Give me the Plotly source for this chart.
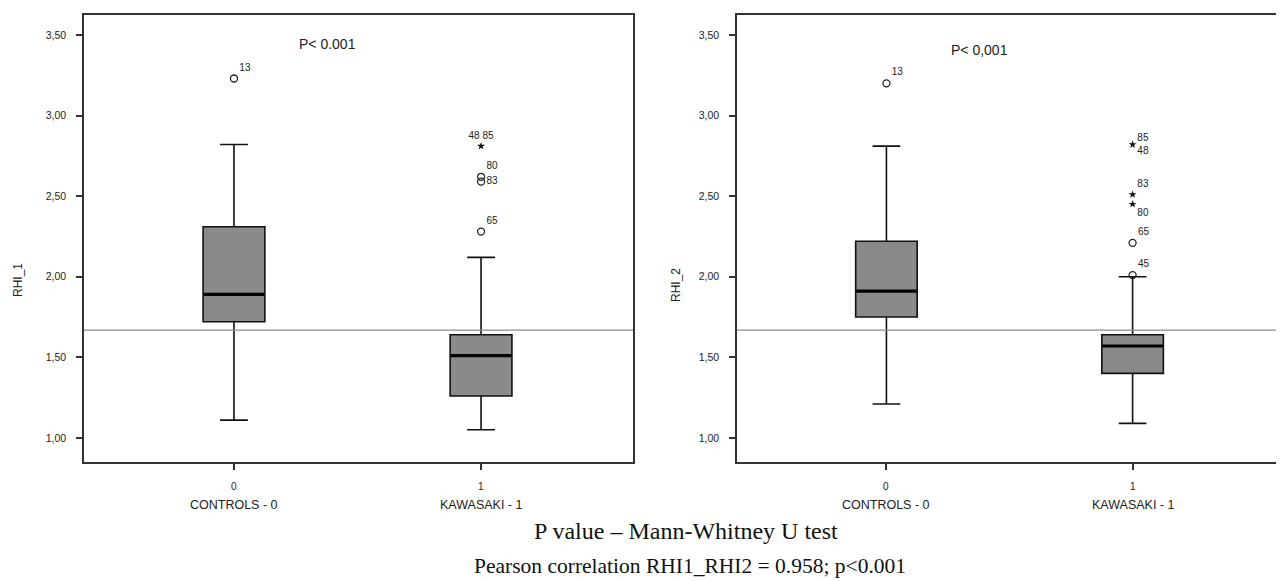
import plotly.graph_objects as go

# ---------------- data ----------------
categories = [0, 1]
category_ticks = ["0", "1"]
category_names = ["CONTROLS - 0", "KAWASAKI - 1"]

# RHI_1 boxes: controls, kawasaki
rhi1_q1 = [1.72, 1.26]
rhi1_median = [1.89, 1.51]
rhi1_q3 = [2.31, 1.64]
rhi1_lower = [1.11, 1.05]
rhi1_upper = [2.82, 2.12]

# RHI_1 outliers
rhi1_out_x = [0, 1, 1, 1]
rhi1_out_y = [3.23, 2.28, 2.59, 2.62]
rhi1_out_label = ["13", "65", "83", "80"]
rhi1_ext_x = [1]
rhi1_ext_y = [2.81]
rhi1_ext_label = ["48 85"]

# RHI_2 boxes
rhi2_q1 = [1.75, 1.40]
rhi2_median = [1.91, 1.57]
rhi2_q3 = [2.22, 1.64]
rhi2_lower = [1.21, 1.09]
rhi2_upper = [2.81, 2.00]

# RHI_2 outliers
rhi2_out_x = [0, 1, 1]
rhi2_out_y = [3.20, 2.01, 2.21]
rhi2_out_label = ["13", "45", "65"]
rhi2_ext_x = [1, 1, 1]
rhi2_ext_y = [2.82, 2.51, 2.45]
rhi2_ext_label = ["85<br>48", "83", "80"]

reference_line = 1.668
y_ticks = [1.0, 1.5, 2.0, 2.5, 3.0, 3.5]
y_tick_text = ["1,00", "1,50", "2,00", "2,50", "3,00", "3,50"]

# ---------------- figure ----------------
W, H, OFF = 1284, 581, 8


def px(x):
    return (x - OFF) / W


def py(y):
    return 1 - (y - OFF) / H


fig = go.Figure()
BOX_FILL = "#8a8a8a"
FONT = "Liberation Sans"


def add_panel(xa, ya, q1, med, q3, lo, hi, ox, oy, olab, opos, ex, ey, elab, epos):
    fig.add_trace(go.Box(
        x=categories, q1=q1, median=med, q3=q3, lowerfence=lo, upperfence=hi,
        xaxis=xa, yaxis=ya, width=0.25, whiskerwidth=0.45,
        fillcolor=BOX_FILL, line=dict(color="#111111", width=1.6),
        boxpoints=False, hoverinfo="skip", showlegend=False))
    for c, m in zip(categories, med):
        fig.add_trace(go.Scatter(
            x=[c - 0.122, c + 0.122], y=[m, m], mode="lines",
            line=dict(color="#000000", width=3.2), xaxis=xa, yaxis=ya,
            showlegend=False, hoverinfo="skip"))
    fig.add_trace(go.Scatter(
        x=ox, y=oy, mode="markers+text", text=olab, textposition=opos,
        textfont=dict(family=FONT, size=10, color="#222"),
        marker=dict(symbol="circle-open", size=7, color="#222", line=dict(width=1.3)),
        xaxis=xa, yaxis=ya, showlegend=False, hoverinfo="skip"))
    fig.add_trace(go.Scatter(
        x=ex, y=ey, mode="markers+text", text=elab, textposition=epos,
        textfont=dict(family=FONT, size=10, color="#222"),
        marker=dict(symbol="star", size=6, color="#111"),
        xaxis=xa, yaxis=ya, showlegend=False, hoverinfo="skip"))


add_panel("x", "y", rhi1_q1, rhi1_median, rhi1_q3, rhi1_lower, rhi1_upper,
          rhi1_out_x, rhi1_out_y, rhi1_out_label,
          ["top right", "top right", "middle right", "top right"],
          rhi1_ext_x, rhi1_ext_y, rhi1_ext_label, ["top center"])
add_panel("x2", "y2", rhi2_q1, rhi2_median, rhi2_q3, rhi2_lower, rhi2_upper,
          rhi2_out_x, rhi2_out_y, rhi2_out_label,
          ["top right", "top right", "top right"],
          rhi2_ext_x, rhi2_ext_y, rhi2_ext_label,
          ["middle right", "top right", "bottom right"])

xrange = [-0.607, 1.615]
yrange = [0.85, 3.624]
axis_common = dict(showline=True, linecolor="#333333", linewidth=1.6,
                   ticks="outside", ticklen=6, tickcolor="#333333", tickwidth=1.5,
                   showgrid=False, zeroline=False)
yfont = dict(family=FONT, size=10.5, color="#222")

ydom = [py(462), py(15)]
fig.update_layout(
    width=W, height=H,
    margin=dict(l=0, r=0, t=0, b=0),
    paper_bgcolor="white", plot_bgcolor="white",
    xaxis=dict(domain=[px(84), px(633)], range=xrange, tickvals=categories,
               showticklabels=False, mirror=True, anchor="y", **axis_common),
    yaxis=dict(domain=ydom, range=yrange, tickvals=y_ticks,
               ticktext=y_tick_text, mirror=True, anchor="x", tickfont=yfont,
               ticklabelstandoff=8, **axis_common),
    xaxis2=dict(domain=[px(737), px(1284)], range=xrange, tickvals=categories,
                showticklabels=False, mirror=True, anchor="y2", **axis_common),
    yaxis2=dict(domain=ydom, range=yrange, tickvals=y_ticks,
                ticktext=y_tick_text, mirror=False, anchor="x2", tickfont=yfont,
                ticklabelstandoff=8, **axis_common),
)

for xa, ya in [("x", "y"), ("x2", "y2")]:
    fig.add_shape(type="line", xref=f"{xa} domain", yref=ya, x0=0, x1=1,
                  y0=reference_line, y1=reference_line,
                  line=dict(color="#8c8c8c", width=1.2))

annotations = [
    dict(text="P< 0.001", x=0.377, y=3.444, xref="x", yref="y", showarrow=False,
         font=dict(family=FONT, size=14, color="#222")),
    dict(text="P< 0,001", x=0.378, y=3.407, xref="x2", yref="y2", showarrow=False,
         font=dict(family=FONT, size=14, color="#222")),
    dict(text="RHI_1", x=px(18), y=py(280), xref="paper", yref="paper",
         xanchor="center", yanchor="middle",
         textangle=-90, showarrow=False, font=dict(family=FONT, size=12, color="#222")),
    dict(text="RHI_2", x=px(676), y=py(285), xref="paper", yref="paper",
         xanchor="center", yanchor="middle",
         textangle=-90, showarrow=False, font=dict(family=FONT, size=12, color="#222")),
    dict(text="P value – Mann-Whitney U test", x=px(686), y=py(531),
         xref="paper", yref="paper", xanchor="center", yanchor="middle",
         showarrow=False, font=dict(family="Liberation Serif", size=24, color="#111")),
    dict(text="Pearson correlation RHI1_RHI2 = 0.958; p<0.001", x=px(690),
         y=py(566), xref="paper", yref="paper", xanchor="center", yanchor="middle",
         showarrow=False, font=dict(family="Liberation Serif", size=21.5, color="#111")),
]
for xa in ["x", "x2"]:
    for c, tick, name in zip(categories, category_ticks, category_names):
        annotations.append(dict(
            text=tick, x=c, y=py(486), xref=xa, yref="paper",
            xanchor="center", yanchor="middle", showarrow=False,
            font=dict(family=FONT, size=10, color="#222")))
        annotations.append(dict(
            text=name, x=c, y=py(505), xref=xa, yref="paper",
            xanchor="center", yanchor="middle", showarrow=False,
            font=dict(family=FONT, size=12.5, color="#222")))
fig.update_layout(annotations=annotations)

fig.write_html("out.html")
